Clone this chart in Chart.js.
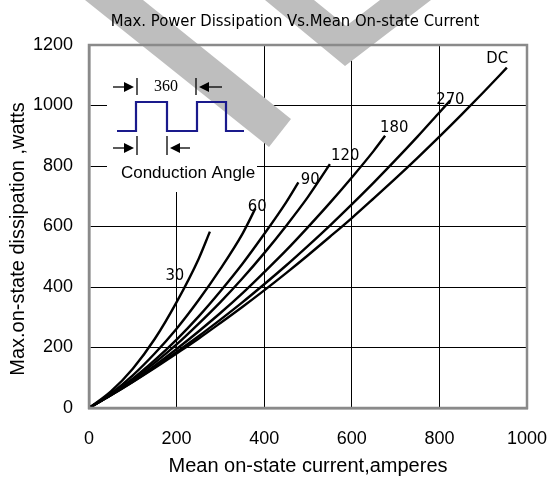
<!DOCTYPE html>
<html><head><meta charset="utf-8">
<script src="https://cdn.jsdelivr.net/npm/chart.js@4.4.0/dist/chart.umd.min.js"></script>
<style>html,body{margin:0;padding:0;background:#fff}</style>
</head><body>
<canvas id="c" width="547" height="485" style="width:547px;height:485px;display:block"></canvas>
<script>
const chartTitle = 'Max. Power Dissipation Vs.Mean On-state Current';
const xAxisTitle = 'Mean on-state current,amperes';
const yAxisTitle = 'Max.on-state dissipation ,watts';
const insetPeriodLabel = '360';
const insetAngleLabel = 'Conduction Angle';
const xTickValues = [0, 200, 400, 600, 800, 1000];
const yTickValues = [0, 200, 400, 600, 800, 1000, 1200];
const seriesNames = ['30', '60', '90', '120', '180', '270', 'DC'];

const current30 = [0, 50, 100, 150, 200, 250, 276];
const power30   = [0, 55, 130, 228, 350, 492, 583];
const current60 = [0, 50, 100, 150, 200, 250, 300, 350, 380];
const power60   = [0, 48, 108, 180, 262, 356, 460, 575, 660];
const current90 = [0, 50, 100, 150, 200, 250, 300, 350, 400, 450, 478];
const power90   = [0, 45, 97, 158, 226, 302, 386, 476, 575, 680, 746];
const current120 = [0, 50, 100, 150, 200, 250, 300, 350, 400, 450, 500, 550];
const power120   = [0, 44, 94, 149, 210, 278, 350, 428, 512, 602, 698, 806];
const current180 = [0, 50, 100, 150, 200, 250, 300, 350, 400, 450, 500, 550, 600, 650, 676];
const power180   = [0, 43, 90, 140, 195, 253, 314, 379, 449, 521, 598, 678, 762, 850, 900];
const current270 = [0, 50, 100, 150, 200, 250, 300, 350, 400, 450, 500, 550, 600, 650, 700, 750, 800, 825];
const power270   = [0, 42, 87, 135, 185, 237, 292, 349, 409, 471, 536, 603, 673, 745, 820, 897, 977, 1017];
const currentDC = [0, 50, 100, 150, 200, 250, 300, 350, 400, 450, 500, 550, 600, 650, 700, 750, 800, 850, 900, 954];
const powerDC   = [0, 42, 86, 132, 180, 229, 281, 334, 389, 446, 505, 566, 628, 693, 759, 827, 897, 969, 1043, 1125];

const seriesCurrents = [current30, current60, current90, current120, current180, current270, currentDC];
const seriesPowers = [power30, power60, power90, power120, power180, power270, powerDC];
// label anchor positions in data units (amperes, watts)
const labelAnchorX = [196, 384, 505, 585, 697, 825, 932];
const labelAnchorY = [437, 665, 754, 833, 925, 1018, 1153];

const narrow = '"Liberation Sans Narrow", "DejaVu Sans Condensed", "Liberation Sans", Arial, sans-serif';
const sans = '"Liberation Sans", Arial, sans-serif';

const datasets = seriesNames.map((n, k) => ({
  label: n,
  data: seriesCurrents[k].map((x, i) => ({ x: x, y: seriesPowers[k][i] })),
  borderColor: '#000',
  borderWidth: 2.4,
  pointRadius: 0,
  fill: false,
  cubicInterpolationMode: 'monotone'
}));

function arrow(ctx, x1, x2, y) {
  const dir = x2 > x1 ? 1 : -1;
  ctx.beginPath(); ctx.moveTo(x1, y); ctx.lineTo(x2 - dir * 8, y); ctx.stroke();
  ctx.beginPath(); ctx.moveTo(x2, y); ctx.lineTo(x2 - dir * 10, y - 5); ctx.lineTo(x2 - dir * 10, y + 5); ctx.closePath(); ctx.fill();
}

function poly(ctx, pts) {
  ctx.beginPath();
  ctx.moveTo(pts[0][0], pts[0][1]);
  for (let i = 1; i < pts.length; i++) ctx.lineTo(pts[i][0], pts[i][1]);
  ctx.closePath(); ctx.fill();
}

const decor = {
  id: 'decor',
  beforeDatasetsDraw(chart) {
    const ctx = chart.ctx, a = chart.chartArea;
    ctx.save();
    ctx.fillStyle = '#fff';
    ctx.fillRect(a.left + 18, a.top + 19, 150, 128);
    // background watermark bands
    ctx.fillStyle = '#bebebe';
    poly(ctx, [[85, 0], [143, 0], [291, 119], [269, 147]]);
    poly(ctx, [[265, 0], [314, 0], [346, 26], [380, 0], [431, 0], [345, 66]]);
    ctx.restore();
  },
  afterDraw(chart) {
    const ctx = chart.ctx, a = chart.chartArea;
    const xs = chart.scales.x, ys = chart.scales.y;
    ctx.save();
    ctx.strokeStyle = '#8a8a8a'; ctx.lineWidth = 2.5;
    ctx.strokeRect(a.left, a.top, a.right - a.left, a.bottom - a.top);
    ctx.fillStyle = '#000';
    ctx.textAlign = 'center'; ctx.textBaseline = 'middle';
    ctx.font = '16.5px ' + narrow;
    ctx.fillText(chartTitle, 295, 22);
    ctx.save();
    ctx.translate(18, 239); ctx.rotate(-Math.PI / 2);
    ctx.font = '20px ' + sans;
    ctx.fillText(yAxisTitle, 0, 0);
    ctx.restore();
    ctx.font = '16.5px ' + narrow;
    seriesNames.forEach((n, k) => {
      ctx.fillText(n, xs.getPixelForValue(labelAnchorX[k]), ys.getPixelForValue(labelAnchorY[k]));
    });
    const ox = a.left, oy = a.top;
    ctx.strokeStyle = '#000'; ctx.fillStyle = '#000'; ctx.lineWidth = 1.3;
    ctx.beginPath(); ctx.moveTo(ox + 48, oy + 33); ctx.lineTo(ox + 48, oy + 50); ctx.stroke();
    ctx.beginPath(); ctx.moveTo(ox + 107, oy + 33); ctx.lineTo(ox + 107, oy + 50); ctx.stroke();
    arrow(ctx, ox + 24, ox + 45, oy + 42);
    arrow(ctx, ox + 133, ox + 110, oy + 42);
    ctx.font = '16px "Liberation Serif", "Times New Roman", serif';
    ctx.fillText(insetPeriodLabel, ox + 77, oy + 42);
    ctx.strokeStyle = '#1a1a8c'; ctx.lineWidth = 2.2;
    ctx.beginPath();
    ctx.moveTo(ox + 28, oy + 86); ctx.lineTo(ox + 47, oy + 86); ctx.lineTo(ox + 47, oy + 57);
    ctx.lineTo(ox + 78, oy + 57); ctx.lineTo(ox + 78, oy + 86); ctx.lineTo(ox + 108, oy + 86);
    ctx.lineTo(ox + 108, oy + 57); ctx.lineTo(ox + 137, oy + 57); ctx.lineTo(ox + 137, oy + 86);
    ctx.lineTo(ox + 155, oy + 86);
    ctx.stroke();
    ctx.strokeStyle = '#000'; ctx.lineWidth = 1.3;
    ctx.beginPath(); ctx.moveTo(ox + 48, oy + 91); ctx.lineTo(ox + 48, oy + 110); ctx.stroke();
    ctx.beginPath(); ctx.moveTo(ox + 78, oy + 91); ctx.lineTo(ox + 78, oy + 110); ctx.stroke();
    arrow(ctx, ox + 24, ox + 45, oy + 103);
    arrow(ctx, ox + 101, ox + 81, oy + 103);
    ctx.font = '17px ' + sans;
    ctx.fillText(insetAngleLabel, ox + 99, oy + 128);
    ctx.restore();
  }
};

new Chart(document.getElementById('c'), {
  type: 'line',
  data: { datasets: datasets },
  plugins: [decor],
  options: {
    responsive: false,
    animation: false,
    layout: { padding: { top: 45, right: 0, left: 0, bottom: 0 } },
    plugins: { legend: { display: false }, tooltip: { enabled: false }, title: { display: false } },
    scales: {
      x: {
        type: 'linear', min: 0, max: 1000,
        afterBuildTicks: s => { s.ticks = xTickValues.map(v => ({ value: v })); },
        afterFit: s => { s.height = 77; s.paddingRight = 20; s.paddingLeft = 0; },
        ticks: { color: '#000', font: { family: sans, size: 18 }, padding: 20, maxRotation: 0, callback: v => String(v) },
        grid: { color: '#000', lineWidth: 1, drawTicks: false },
        border: { display: true, color: '#8a8a8a', width: 2.5 },
        title: { display: true, text: xAxisTitle, color: '#000', font: { family: sans, size: 20 }, padding: { top: 7, bottom: 7 } }
      },
      y: {
        type: 'linear', min: 0, max: 1200,
        afterBuildTicks: s => { s.ticks = yTickValues.map(v => ({ value: v })); },
        afterFit: s => { s.width = 89; },
        ticks: { color: '#000', font: { family: sans, size: 18 }, padding: 16, callback: v => String(v) },
        grid: { color: '#000', lineWidth: 1, drawTicks: false },
        border: { display: true, color: '#8a8a8a', width: 2.5 },
        title: { display: false }
      }
    }
  }
});
</script>
</body></html>
